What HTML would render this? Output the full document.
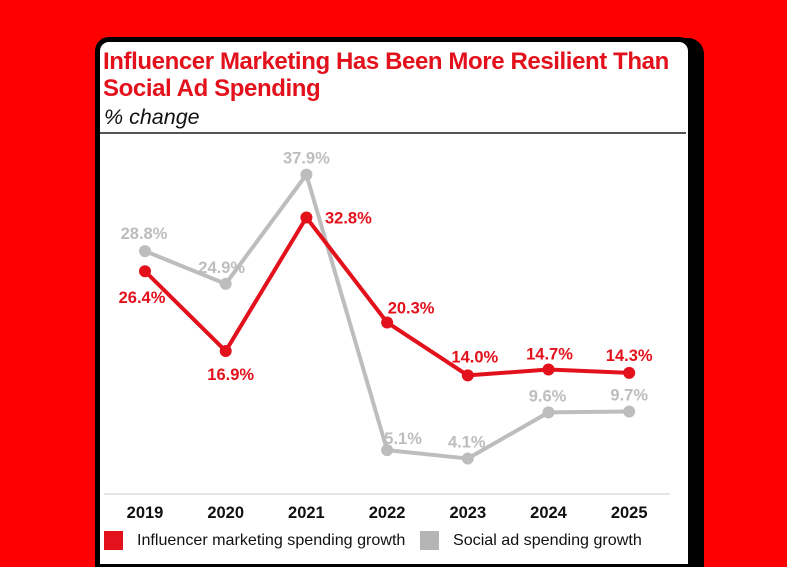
<!DOCTYPE html>
<html style="overflow:hidden;width:787px;height:567px"><head><meta charset="utf-8"><style>
body{margin:0;width:787px;height:567px;overflow:hidden;background:#fe0000;font-family:"Liberation Sans",sans-serif;position:relative}
.shadow{position:absolute;left:104px;top:38px;width:600px;height:529px;background:#000;border-radius:16px 16px 0 0}
.card{position:absolute;left:95px;top:37px;width:588px;height:522px;background:#fff;border:5px solid #000;border-radius:14px 14px 0 0}
.t{position:absolute;left:103px;color:#e3111c;font-weight:bold;font-size:24px;letter-spacing:-0.4px;white-space:nowrap}
</style></head><body>
<div class="shadow"></div>
<div class="card"></div>
<div class="t" style="top:48px">Influencer Marketing Has Been More Resilient Than</div>
<div class="t" style="top:75px">Social Ad Spending</div>
<div style="position:absolute;left:104px;top:105px;font-size:21.5px;font-style:italic;color:#111">% change</div>
<div style="position:absolute;left:100px;top:132px;width:586px;height:2px;background:#555"></div>
<svg id="c" width="787" height="567" style="position:absolute;left:0;top:0"></svg>
<script>
const years=["2019","2020","2021","2022","2023","2024","2025"];
const influencer=[26.4,16.9,32.8,20.3,14.0,14.7,14.3];
const social=[28.8,24.9,37.9,5.1,4.1,9.6,9.7];
const redLabelOff=[[-3,26],[5,23],[42,0],[24,-15],[7,-19],[1,-16],[0,-18]];
const greyLabelOff=[[-1,-18],[-4,-17],[0,-17],[16,-12],[-1,-17],[-1,-17],[0,-17]];
const RED="#e3111c",GREY="#bdbdbd";
const svg=document.getElementById('c');const NS="http://www.w3.org/2000/svg";
const x=i=>145+i*80.7, y=v=>493-v*8.4;
function el(t,a,p){const e=document.createElementNS(NS,t);for(const k in a)e.setAttribute(k,a[k]);(p||svg).appendChild(e);return e;}
const ax=el('line',{x1:104,x2:670,y1:494,y2:494,stroke:'#ddd','stroke-width':1.5});


years.forEach((yr,i)=>{const t=el('text',{x:x(i),y:518,'text-anchor':'middle','font-size':16.5,'font-weight':'bold',fill:'#111'});t.textContent=yr;

});
function series(vals,col,name,offs){
 const p=el('polyline',{points:vals.map((v,i)=>x(i)+','+y(v)).join(' '),fill:'none',stroke:col,'stroke-width':4,'stroke-linejoin':'round'});
 
 
 vals.forEach((v,i)=>{const c=el('circle',{cx:x(i),cy:y(v),r:6,fill:col});
 
 
 const t=el('text',{x:x(i)+offs[i][0],y:y(v)+offs[i][1]+6,'text-anchor':'middle','font-size':16.5,'font-weight':'bold',fill:col});t.textContent=v.toFixed(1)+'%';
 
 });
}
series(social,GREY,'social',greyLabelOff);
series(influencer,RED,'influencer',redLabelOff);
</script>
<div style="position:absolute;left:104px;top:531px;width:19px;height:19px;background:#e3111c"></div>
<div style="position:absolute;left:137px;top:531px;font-size:16.1px;color:#111">Influencer marketing spending growth</div>
<div style="position:absolute;left:420px;top:531px;width:19px;height:19px;background:#b5b5b5"></div>
<div style="position:absolute;left:453px;top:531px;font-size:16.1px;color:#111">Social ad spending growth</div>
</body></html>
